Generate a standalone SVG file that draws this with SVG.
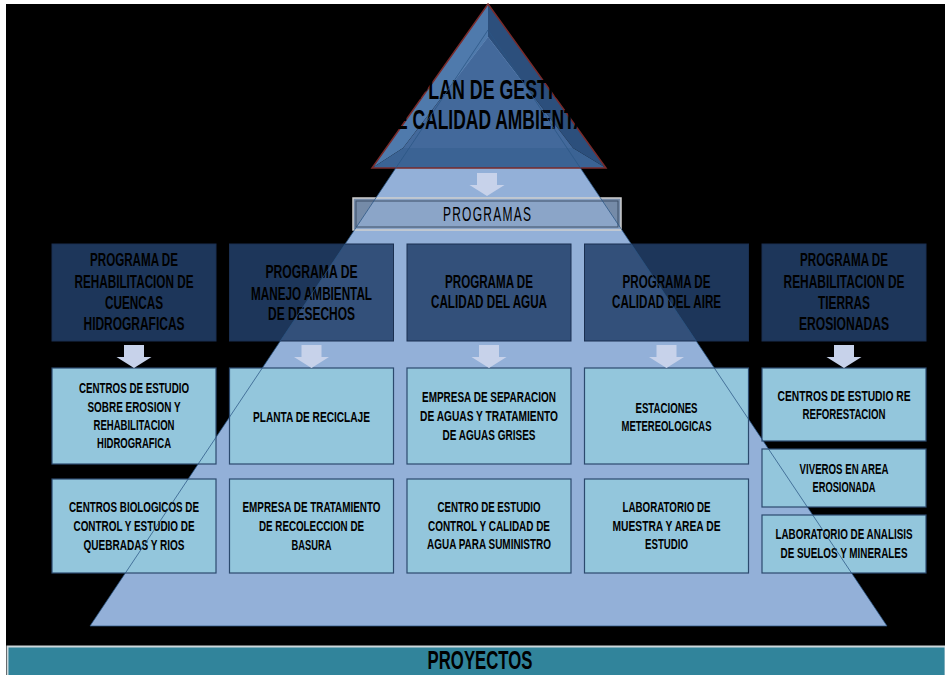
<svg xmlns="http://www.w3.org/2000/svg" xmlns:xlink="http://www.w3.org/1999/xlink" width="945" height="675" viewBox="0 0 945 675">
<style>
text{font-family:"Liberation Sans",Arial,sans-serif;fill:#000;text-anchor:middle}
.ptx{font-size:18px;font-weight:bold}
.jtx{font-size:14px;font-weight:bold}
.big{font-size:27px;font-weight:bold}
.bar{font-size:20px}
.foot{font-size:26px;font-weight:bold}
.prog{fill:#223f6a;fill-opacity:0.85;stroke:#1a2f50;stroke-width:1}
.proj{fill:#93c6dc;stroke:#2c4a6e;stroke-width:1.2}
.arr{fill:#c7d2ea}
</style>
<defs>
<path id="arrow" class="arr" d="M-10,0 H10 V12 H17.5 L0,23 L-17.5,12 H-10 Z"/>
</defs>
<rect x="0" y="0" width="945" height="675" fill="#ffffff"/>
<rect x="6" y="4" width="939" height="671" fill="#000000"/>

<g id="pyramid">
<polygon points="488,30 887,626 90,626" fill="#93b0d8"/>
</g>

<g id="plan">
<polygon points="488,4 372,168 403,148 488,37" fill="#4f7aac"/>
<polygon points="488,4 606,168 573,148 488,37" fill="#2c4f7c"/>
<polygon points="372,168 606,168 573,148 403,148" fill="#3b6394"/>
<polygon points="488,37 573,148 403,148" fill="#43699b"/>
<polygon points="488,4 606,168 372,168" fill="none" stroke="#7a2b2b" stroke-width="1.5"/>
<g transform="translate(498 0) scale(0.66 1)">
<text class="big" x="0" y="99" textLength="247" lengthAdjust="spacingAndGlyphs">PLAN DE GESTION</text>
</g>
<g transform="translate(490 0) scale(0.66 1)">
<text class="big" x="0" y="129.5" textLength="323" lengthAdjust="spacingAndGlyphs">DE CALIDAD AMBIENTAL</text>
</g>
</g>

<g id="programas">
<rect x="353" y="198" width="268" height="32" fill="#8aa3c6" fill-opacity="0.85" stroke="#d0d0d0" stroke-width="1.5"/>
<rect x="356" y="201" width="262" height="26" fill="none" stroke="#3d4f66" stroke-width="1"/>
<g transform="translate(487 0) scale(0.6 1)">
<text class="bar" x="0" y="221.5" textLength="147" lengthAdjust="spacing">PROGRAMAS</text>
</g>
</g>

<g id="prog1">
<rect class="prog" x="52" y="244" width="164" height="97"/>
<g transform="translate(134 0) scale(0.66 1)">
<text class="ptx" x="0" y="266.5" textLength="133.3" lengthAdjust="spacingAndGlyphs">PROGRAMA DE</text>
<text class="ptx" x="0" y="288" textLength="180.3" lengthAdjust="spacingAndGlyphs">REHABILITACION DE</text>
<text class="ptx" x="0" y="309.5" textLength="87.9" lengthAdjust="spacingAndGlyphs">CUENCAS</text>
<text class="ptx" x="0" y="330" textLength="153" lengthAdjust="spacingAndGlyphs">HIDROGRAFICAS</text>
</g>
</g>
<g id="prog2">
<rect class="prog" x="229.5" y="244" width="164" height="97"/>
<g transform="translate(311.5 0) scale(0.66 1)">
<text class="ptx" x="0" y="278" textLength="139.4" lengthAdjust="spacingAndGlyphs">PROGRAMA DE</text>
<text class="ptx" x="0" y="300" textLength="183.3" lengthAdjust="spacingAndGlyphs">MANEJO AMBIENTAL</text>
<text class="ptx" x="0" y="320" textLength="131.8" lengthAdjust="spacingAndGlyphs">DE DESECHOS</text>
</g>
</g>
<g id="prog3">
<rect class="prog" x="407" y="244" width="164" height="97"/>
<g transform="translate(489 0) scale(0.66 1)">
<text class="ptx" x="0" y="288.5" textLength="133.3" lengthAdjust="spacingAndGlyphs">PROGRAMA DE</text>
<text class="ptx" x="0" y="308.5" textLength="175.8" lengthAdjust="spacingAndGlyphs">CALIDAD DEL AGUA</text>
</g>
</g>
<g id="prog4">
<rect class="prog" x="584.5" y="244" width="164" height="97"/>
<g transform="translate(666.5 0) scale(0.66 1)">
<text class="ptx" x="0" y="288.5" textLength="133.3" lengthAdjust="spacingAndGlyphs">PROGRAMA DE</text>
<text class="ptx" x="0" y="308.5" textLength="165.2" lengthAdjust="spacingAndGlyphs">CALIDAD DEL AIRE</text>
</g>
</g>
<g id="prog5">
<rect class="prog" x="762" y="244" width="164" height="97"/>
<g transform="translate(844 0) scale(0.66 1)">
<text class="ptx" x="0" y="266.5" textLength="133.3" lengthAdjust="spacingAndGlyphs">PROGRAMA DE</text>
<text class="ptx" x="0" y="288" textLength="183.3" lengthAdjust="spacingAndGlyphs">REHABILITACION DE</text>
<text class="ptx" x="0" y="309.5" textLength="78.8" lengthAdjust="spacingAndGlyphs">TIERRAS</text>
<text class="ptx" x="0" y="330" textLength="136.4" lengthAdjust="spacingAndGlyphs">EROSIONADAS</text>
</g>
</g>

<g id="proj1a">
<rect class="proj" x="52" y="368" width="164" height="96"/>
<g transform="translate(134 0) scale(0.7 1)">
<text class="jtx" x="0" y="393" textLength="157.1" lengthAdjust="spacingAndGlyphs">CENTROS DE ESTUDIO</text>
<text class="jtx" x="0" y="411.7" textLength="132.9" lengthAdjust="spacingAndGlyphs">SOBRE EROSION Y</text>
<text class="jtx" x="0" y="430" textLength="115.7" lengthAdjust="spacingAndGlyphs">REHABILITACION</text>
<text class="jtx" x="0" y="448.3" textLength="105.7" lengthAdjust="spacingAndGlyphs">HIDROGRAFICA</text>
</g>
</g>
<g id="proj1b">
<rect class="proj" x="52" y="479" width="164" height="94"/>
<g transform="translate(134 0) scale(0.7 1)">
<text class="jtx" x="0" y="512" textLength="185.7" lengthAdjust="spacingAndGlyphs">CENTROS BIOLOGICOS DE</text>
<text class="jtx" x="0" y="531" textLength="172.9" lengthAdjust="spacingAndGlyphs">CONTROL Y ESTUDIO DE</text>
<text class="jtx" x="0" y="550" textLength="144.3" lengthAdjust="spacingAndGlyphs">QUEBRADAS Y RIOS</text>
</g>
</g>
<g id="proj2a">
<rect class="proj" x="229.5" y="368" width="164" height="96"/>
<g transform="translate(311.5 0) scale(0.7 1)">
<text class="jtx" x="0" y="421.7" textLength="167.1" lengthAdjust="spacingAndGlyphs">PLANTA DE RECICLAJE</text>
</g>
</g>
<g id="proj2b">
<rect class="proj" x="229.5" y="479" width="164" height="94"/>
<g transform="translate(311.5 0) scale(0.7 1)">
<text class="jtx" x="0" y="512" textLength="197.1" lengthAdjust="spacingAndGlyphs">EMPRESA DE TRATAMIENTO</text>
<text class="jtx" x="0" y="531" textLength="150" lengthAdjust="spacingAndGlyphs">DE RECOLECCION DE</text>
<text class="jtx" x="0" y="550" textLength="57.1" lengthAdjust="spacingAndGlyphs">BASURA</text>
</g>
</g>
<g id="proj3a">
<rect class="proj" x="407" y="368" width="164" height="96"/>
<g transform="translate(489 0) scale(0.7 1)">
<text class="jtx" x="0" y="402" textLength="191.4" lengthAdjust="spacingAndGlyphs">EMPRESA DE SEPARACION</text>
<text class="jtx" x="0" y="421" textLength="197.1" lengthAdjust="spacingAndGlyphs">DE AGUAS Y TRATAMIENTO</text>
<text class="jtx" x="0" y="440" textLength="132.9" lengthAdjust="spacingAndGlyphs">DE AGUAS GRISES</text>
</g>
</g>
<g id="proj3b">
<rect class="proj" x="407" y="479" width="164" height="94"/>
<g transform="translate(489 0) scale(0.7 1)">
<text class="jtx" x="0" y="512" textLength="147.1" lengthAdjust="spacingAndGlyphs">CENTRO DE ESTUDIO</text>
<text class="jtx" x="0" y="531" textLength="174.3" lengthAdjust="spacingAndGlyphs">CONTROL Y CALIDAD DE</text>
<text class="jtx" x="0" y="549.5" textLength="177.1" lengthAdjust="spacingAndGlyphs">AGUA PARA SUMINISTRO</text>
</g>
</g>
<g id="proj4a">
<rect class="proj" x="584.5" y="368" width="164" height="96"/>
<g transform="translate(666.5 0) scale(0.7 1)">
<text class="jtx" x="0" y="413" textLength="88.6" lengthAdjust="spacingAndGlyphs">ESTACIONES</text>
<text class="jtx" x="0" y="431" textLength="128.6" lengthAdjust="spacingAndGlyphs">METEREOLOGICAS</text>
</g>
</g>
<g id="proj4b">
<rect class="proj" x="584.5" y="479" width="164" height="94"/>
<g transform="translate(666.5 0) scale(0.7 1)">
<text class="jtx" x="0" y="512" textLength="125.7" lengthAdjust="spacingAndGlyphs">LABORATORIO DE</text>
<text class="jtx" x="0" y="531" textLength="154.3" lengthAdjust="spacingAndGlyphs">MUESTRA Y AREA DE</text>
<text class="jtx" x="0" y="549.5" textLength="61.4" lengthAdjust="spacingAndGlyphs">ESTUDIO</text>
</g>
</g>
<g id="proj5a">
<rect class="proj" x="762" y="368" width="164" height="73"/>
<g transform="translate(844 0) scale(0.7 1)">
<text class="jtx" x="0" y="401.5" textLength="190" lengthAdjust="spacingAndGlyphs">CENTROS DE ESTUDIO RE</text>
<text class="jtx" x="0" y="419.5" textLength="118.6" lengthAdjust="spacingAndGlyphs">REFORESTACION</text>
</g>
</g>
<g id="proj5b">
<rect class="proj" x="762" y="449" width="164" height="58"/>
<g transform="translate(844 0) scale(0.7 1)">
<text class="jtx" x="0" y="474" textLength="127.1" lengthAdjust="spacingAndGlyphs">VIVEROS EN AREA</text>
<text class="jtx" x="0" y="492.5" textLength="90" lengthAdjust="spacingAndGlyphs">EROSIONADA</text>
</g>
</g>
<g id="proj5c">
<rect class="proj" x="762" y="515" width="164" height="58"/>
<g transform="translate(844 0) scale(0.7 1)">
<text class="jtx" x="0" y="539.5" textLength="195.7" lengthAdjust="spacingAndGlyphs">LABORATORIO DE ANALISIS</text>
<text class="jtx" x="0" y="557.7" textLength="181.4" lengthAdjust="spacingAndGlyphs">DE SUELOS Y MINERALES</text>
</g>
</g>

<g id="pyramid-edge">
<polyline points="90,626 488,30 887,626 90,626" fill="none" stroke="#2b5584" stroke-width="1" stroke-opacity="0.75"/>
</g>

<g id="connectors">
<use xlink:href="#arrow" x="487" y="173"/>
<use xlink:href="#arrow" x="134" y="345"/>
<use xlink:href="#arrow" x="311.5" y="345"/>
<use xlink:href="#arrow" x="489" y="345"/>
<use xlink:href="#arrow" x="666.5" y="345"/>
<use xlink:href="#arrow" x="844" y="345"/>
</g>

<g id="proyectos">
<rect x="7.5" y="646.5" width="938" height="30" fill="#31849b" stroke="#cdd7db" stroke-width="2"/>
<g transform="translate(480 0) scale(0.62 1)">
<text class="foot" x="0" y="669" textLength="169" lengthAdjust="spacingAndGlyphs">PROYECTOS</text>
</g>
</g>
</svg>
